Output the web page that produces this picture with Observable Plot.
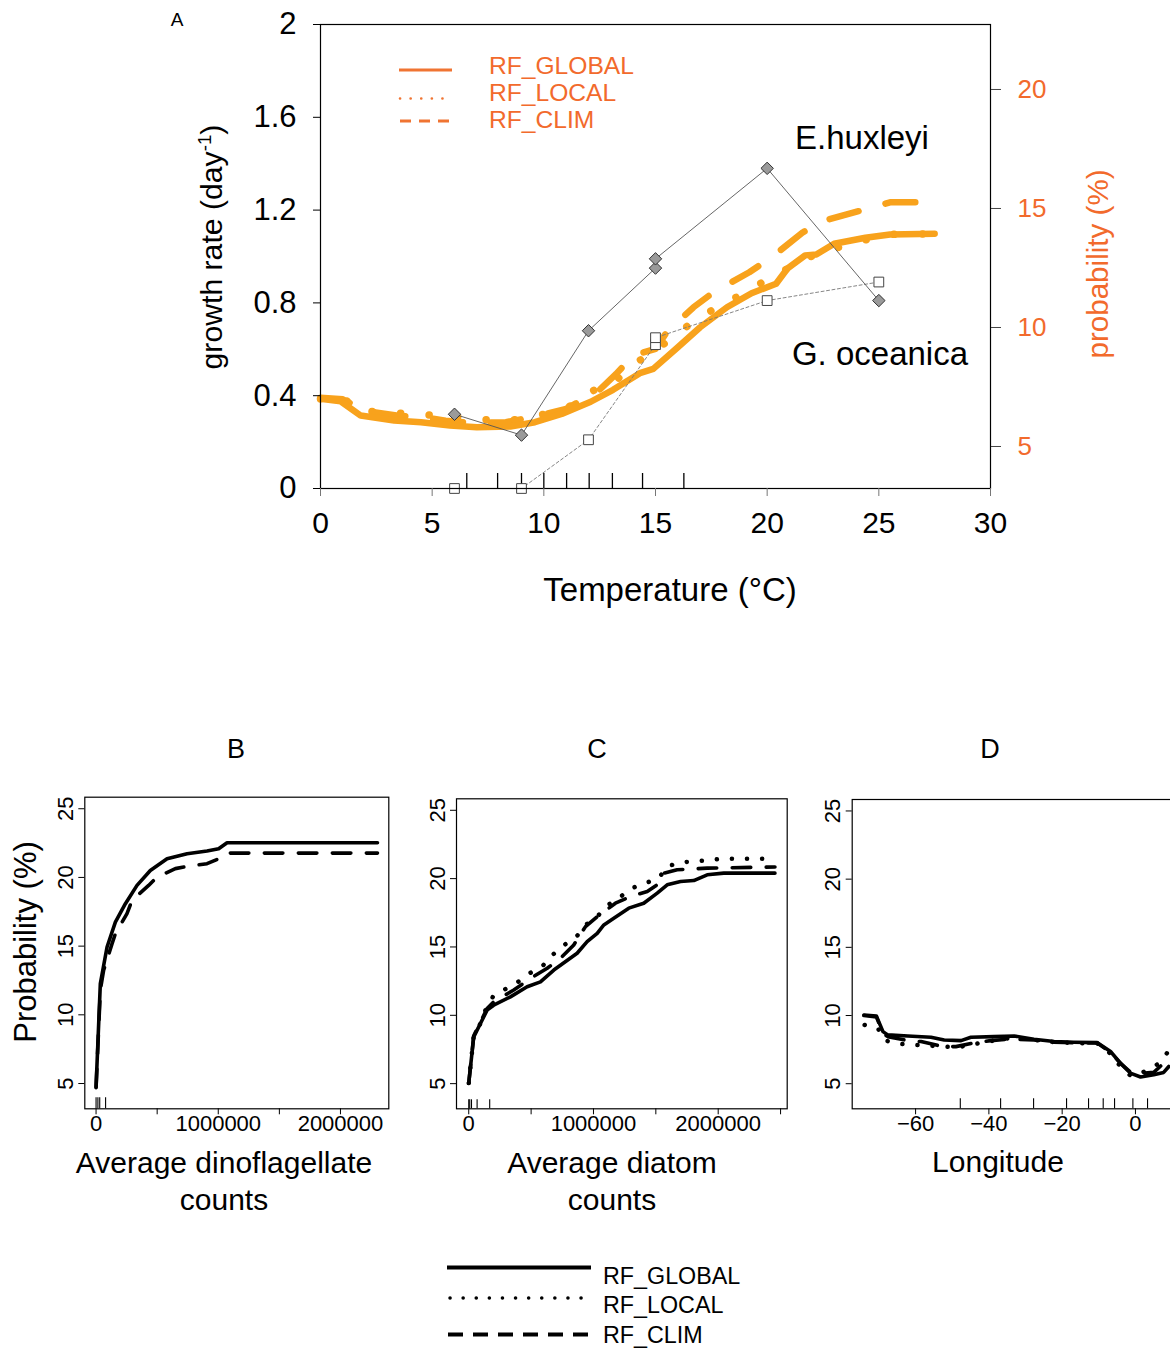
<!DOCTYPE html>
<html><head><meta charset="utf-8">
<script src="https://cdn.jsdelivr.net/npm/d3@7"></script>
<script src="https://cdn.jsdelivr.net/npm/@observablehq/plot@0.6"></script>
<style>
html,body{margin:0;padding:0;background:#fff;overflow:hidden;}
#wrap{position:relative;width:1170px;height:1348px;overflow:hidden;font-family:"Liberation Sans",Arial,Helvetica,sans-serif;background:#fff;}
.lbl{position:absolute;white-space:nowrap;color:#000;line-height:1;}
.lbl sup{font-size:0.62em;vertical-align:0.6em;line-height:0;}
</style></head><body><div id="wrap"></div>
<script>
// ---------------- Panel A data ----------------
const ehuxTemp   = [6, 9, 12, 15, 15, 20, 25];
const ehuxGrowth = [0.32, 0.23, 0.68, 0.95, 0.99, 1.38, 0.81];
const goceTemp   = [6, 9, 12, 15, 15, 20, 25];
const goceGrowth = [0, 0, 0.21, 0.62, 0.65, 0.81, 0.89];

const aGlobalTemp = [0, 0.9, 1.8, 3.3, 4.5, 5.8, 7.0, 8.5, 9.6, 10.8, 12.1, 13.1, 14.3, 14.9, 16.0, 17.0, 18.2, 19.3, 20.4, 20.9, 21.7, 22.2, 23.0, 24.4, 25.5, 27.5];
const aGlobalProb = [7.0, 6.9, 6.3, 6.09, 6.02, 5.88, 5.81, 5.84, 6.02, 6.37, 6.88, 7.38, 8.08, 8.26, 9.17, 10.01, 10.85, 11.44, 11.84, 12.47, 13.03, 13.07, 13.52, 13.77, 13.91, 13.94];

const aLocalTemp = [0, 1.04, 1.48, 2.08, 3.34, 4.67, 5.93, 7.2, 8.5, 9.76, 10.98, 12.34, 13.1, 13.9, 14.9, 15.85, 16.76, 17.8, 18.86, 19.9, 20.9, 21.96, 23.2, 24.4, 25.5, 27.5];
const aLocalProb = [7.0, 7.07, 6.58, 6.48, 6.41, 6.33, 6.26, 6.13, 6.09, 6.30, 6.58, 7.42, 7.63, 8.40, 8.96, 9.65, 10.29, 10.87, 11.39, 11.96, 12.47, 12.98, 13.37, 13.68, 13.91, 13.94];

const aClimTemp = [0, 1.0, 2.0, 3.4, 4.8, 5.6, 6.7, 8.3, 9.3, 10.0, 11.0, 12.46, 13.24, 14.0, 15.0, 15.5, 16.7, 17.6, 19.2, 20.2, 21.6, 22.6, 24.5, 25.5, 27.5];
const aClimProb = [7.05, 6.98, 6.5, 6.3, 6.2, 6.08, 6.0, 6.02, 6.2, 6.35, 6.58, 7.35, 8.05, 8.82, 9.10, 9.80, 10.85, 11.48, 12.32, 12.95, 14.0, 14.5, 14.99, 15.26, 15.26];

const aRugTemp = [6.55, 7.93, 9.0, 10.0, 11.02, 12.03, 13.07, 14.42, 16.27];
const aTempTicks = [0, 5, 10, 15, 20, 25, 30];
const aGrowthTicks = [0, 0.4, 0.8, 1.2, 1.6, 2];
const aProbTicks = [5, 10, 15, 20];

// ---------------- Panel B data (dinoflagellates) ----------------
const dinoGlobalX = [0, 35000, 90000, 158000, 240000, 335000, 444000, 581000, 745000, 908000, 1003000, 1072000, 2303000];
const dinoGlobalY = [4.75, 12.27, 14.94, 16.75, 18.09, 19.42, 20.51, 21.36, 21.73, 21.92, 22.09, 22.53, 22.53];
const dinoClimX = [0, 35000, 62000, 131000, 158000, 253000, 294000, 430000, 499000, 649000, 745000, 908000, 1003000, 1072000, 2303000];
const dinoClimY = [4.7, 11.8, 13.24, 15.18, 15.9, 17.36, 18.33, 19.42, 20.03, 20.64, 20.8, 21.0, 21.36, 21.77, 21.77];
const dinoRug = [0, 15000, 30000, 78000];
const dinoTicks = [0, 500000, 1000000, 1500000, 2000000];
const dinoLabels = [0, 1000000, 2000000];

// ---------------- Panel C data (diatoms) ----------------
const diaGlobalX = [0, 40000, 147000, 200000, 334000, 468000, 575000, 682000, 869000, 949000, 1030000, 1083000, 1163000, 1283000, 1403000, 1511000, 1591000, 1698000, 1804000, 1912000, 2045000, 2455000];
const diaGlobalY = [5.04, 8.42, 10.38, 10.74, 11.35, 12.09, 12.45, 13.31, 14.54, 15.39, 16.0, 16.61, 17.1, 17.84, 18.2, 18.94, 19.55, 19.79, 19.86, 20.28, 20.4, 20.4];
const diaLocalX = [0, 40000, 94000, 134000, 193000, 294000, 396000, 495000, 594000, 677000, 767000, 864000, 936000, 1030000, 1110000, 1209000, 1302000, 1409000, 1524000, 1591000, 1698000, 1818000, 2045000, 2455000];
const diaLocalY = [5.04, 8.5, 9.4, 10.38, 11.35, 11.92, 12.45, 13.11, 13.63, 14.46, 15.15, 15.76, 16.61, 17.22, 18.03, 18.62, 19.28, 19.64, 20.04, 20.89, 21.19, 21.26, 21.46, 21.46];
const diaClimX = [0, 40000, 147000, 200000, 361000, 495000, 629000, 735000, 842000, 936000, 1030000, 1176000, 1297000, 1431000, 1511000, 1564000, 1671000, 1912000, 2455000];
const diaClimY = [5.04, 8.5, 10.5, 10.99, 11.85, 12.7, 13.44, 14.17, 15.15, 16.49, 17.22, 18.2, 18.69, 19.06, 19.55, 20.4, 20.65, 20.77, 20.85];
const diaRug = [0, 8000, 22000, 67000, 168000];
const diaTicks = [0, 500000, 1000000, 1500000, 2000000, 2500000];
const diaLabels = [0, 1000000, 2000000];

// ---------------- Panel D data (longitude) ----------------
const lonGlobalX = [-74.1, -70.7, -68.9, -67.6, -62.1, -55.8, -52.2, -47.6, -44.9, -38.6, -33.1, -27.7, -22.2, -16.8, -10.4, -6.8, -4.1, -1.4, 1.4, 5.0, 7.7, 9.1];
const lonGlobalY = [10.04, 9.96, 8.82, 8.58, 8.50, 8.41, 8.21, 8.16, 8.41, 8.45, 8.5, 8.26, 8.09, 8.04, 8.01, 7.36, 6.51, 5.78, 5.49, 5.66, 5.83, 6.26];
const lonLocalX = [-73.9, -70.3, -68.2, -64.4, -60.6, -56.7, -52.6, -48.5, -44.9, -41.3, -37.6, -33.0, -27.7, -22.2, -16.8, -10.4, -6.8, -4.1, -1.4, 1.4, 3.6, 5.9, 8.6, 9.3];
const lonLocalY = [9.31, 9.06, 8.16, 7.92, 7.85, 7.8, 7.72, 7.67, 7.85, 8.04, 8.21, 8.4, 8.22, 8.05, 7.98, 7.95, 7.2, 6.26, 5.6, 5.7, 6.14, 6.4, 7.24, 7.4];
const lonClimX = [-74.1, -70.7, -68.9, -67.6, -62.1, -58.5, -52.6, -49.0, -43.1, -39.5, -34.0, -27.7, -22.2, -16.8, -10.4, -6.8, -4.1, -1.4, 1.4, 5.0, 7.7, 9.1];
const lonClimY = [10.0, 9.9, 8.7, 8.45, 8.16, 8.09, 7.72, 7.72, 8.04, 8.16, 8.28, 8.2, 8.05, 8.0, 7.98, 7.3, 6.5, 5.85, 5.75, 5.83, 6.5, 7.0];
const lonRug = [-47.8, -36.8, -27.8, -18.8, -12.8, -8.8, -5.7, -0.7, 3.3];
const lonTicks = [-60, -40, -20, 0];

const probTicksBottom = [5, 10, 15, 20, 25];
const seriesNames = ["RF_GLOBAL", "RF_LOCAL", "RF_CLIM"];

// ---------------- styles ----------------
const FONT = '"Liberation Sans", Arial, Helvetica, sans-serif';
const ORANGE = "#f8a21c";
const ORANGE_TEXT = "#f26a2c";
const ORANGE_LEG = "#f07432";

const wrap = document.getElementById("wrap");
const rows = (xs, ys) => xs.map((x, i) => ({x, y: ys[i]}));

function place(svg, left, top) {
  svg.style.position = "absolute";
  svg.style.left = left + "px";
  svg.style.top = top + "px";
  svg.style.maxWidth = "none";
  svg.style.background = "transparent";
  svg.style.overflow = "visible";
  wrap.appendChild(svg);
}
function label(html, x, y, size, opts = {}) {
  const d = document.createElement("div");
  d.className = "lbl";
  d.innerHTML = html;
  d.style.left = x + "px";
  d.style.top = y + "px";
  d.style.fontSize = size + "px";
  if (opts.color) d.style.color = opts.color;
  const ax = opts.anchor === "start" ? "0" : "-50%";
  d.style.transform = `translate(${ax}, -50%)` + (opts.rotate ? ` rotate(${opts.rotate}deg)` : "");
  wrap.appendChild(d);
}

// ---------------- Panel A ----------------
const probToGrowth = d3.scaleLinear().domain([3.235, 22.73]).range([0, 2]);
const A_FRAME_H = 464;
const plotA = Plot.plot({
  width: 1170, height: 620,
  marginLeft: 320, marginRight: 180, marginTop: 24, marginBottom: 132,
  x: {domain: [0, 30]},
  y: {domain: [0, 2]},
  style: {fontFamily: FONT, color: "#000"},
  marks: [
    Plot.line(rows(aClimTemp, aClimProb), {x: "x", y: d => probToGrowth(d.y), stroke: ORANGE, strokeWidth: 6.5, strokeDasharray: "30,28", strokeLinecap: "round", strokeLinejoin: "round"}),
    Plot.line(rows(aLocalTemp, aLocalProb), {x: "x", y: d => probToGrowth(d.y), stroke: ORANGE, strokeWidth: 7.5, strokeDasharray: "0.1,28.5", strokeLinecap: "round"}),
    Plot.line(rows(aGlobalTemp, aGlobalProb), {x: "x", y: d => probToGrowth(d.y), stroke: ORANGE, strokeWidth: 6.5, strokeLinejoin: "round", strokeLinecap: "round"}),
    Plot.line(rows(goceTemp, goceGrowth), {x: "x", y: "y", stroke: "#777", strokeWidth: 0.9, strokeDasharray: "3,2.5"}),
    Plot.line(rows(ehuxTemp, ehuxGrowth), {x: "x", y: "y", stroke: "#555", strokeWidth: 0.9}),
    Plot.tickX(aRugTemp, {x: d => d, insetTop: A_FRAME_H - 15, stroke: "#000", strokeWidth: 1.3}),
    Plot.dot(rows(goceTemp, goceGrowth), {x: "x", y: "y", symbol: "square", r: 5.5, fill: "white", stroke: "#444", strokeWidth: 1}),
    Plot.dot(rows(ehuxTemp, ehuxGrowth), {x: "x", y: "y", symbol: "diamond2", r: 5.6, fill: "#9a9a9a", stroke: "#333", strokeWidth: 1}),
    Plot.frame({stroke: "#000", strokeWidth: 1.2}),
    Plot.axisX({ticks: aTempTicks, tickFormat: d => String(d), tickSize: 8, tickPadding: 15, fontSize: 30, stroke: "#777", label: null}),
    Plot.axisY({ticks: aGrowthTicks, tickFormat: d => String(d), tickSize: 7, tickPadding: 17, fontSize: 31, label: null}),
    Plot.axisY({anchor: "right", ticks: aProbTicks.map(probToGrowth), tickFormat: g => String(Math.round(probToGrowth.invert(g))), tickSize: 10, tickPadding: 17, fontSize: 26, fill: ORANGE_TEXT, stroke: "#444", label: null})
  ]
});
place(plotA, 0, 0);

label("A", 177, 19, 19);
label("growth rate (day<sup>-1</sup>)", 212, 247, 30.2, {rotate: -90});
label("probability (%)", 1098, 264, 29.6, {rotate: -90, color: ORANGE_TEXT});
label("Temperature (°C)", 670, 589, 33);
label("E.huxleyi", 862, 137, 33);
label("G. oceanica", 880, 353, 33);

// legend A
{
  const svg = d3.create("svg").attr("width", 70).attr("height", 80)
    .style("position", "absolute").style("left", "392px").style("top", "55px");
  svg.append("line").attr("x1", 7).attr("x2", 60).attr("y1", 15).attr("y2", 15).attr("stroke", ORANGE_LEG).attr("stroke-width", 3);
  svg.append("line").attr("x1", 8).attr("x2", 60).attr("y1", 43.5).attr("y2", 43.5).attr("stroke", ORANGE_LEG).attr("stroke-width", 2.6).attr("stroke-dasharray", "0.1,10.5").attr("stroke-linecap", "round");
  svg.append("line").attr("x1", 8).attr("x2", 60).attr("y1", 66).attr("y2", 66).attr("stroke", ORANGE_LEG).attr("stroke-width", 3.2).attr("stroke-dasharray", "11,8");
  wrap.appendChild(svg.node());
  label(seriesNames[0], 489, 66, 24.6, {anchor: "start", color: ORANGE_TEXT});
  label(seriesNames[1], 489, 93, 24.6, {anchor: "start", color: ORANGE_TEXT});
  label(seriesNames[2], 489, 120, 24.6, {anchor: "start", color: ORANGE_TEXT});
}

// ---------------- bottom panels ----------------
const probDomainBottom = [3.16, 25.84];
const STYLE = {
  solid: {strokeWidth: 3.6},
  dotted: {strokeWidth: 4.5, strokeDasharray: "0.1,15"},
  dashed: {strokeWidth: 3.6, strokeDasharray: "18.5,15.5"}
};
function bottomPanel({left, width, frame, xDomain, xTicks, xFormat, series, rug, rugLen}) {
  const top = 760, height = 400;
  const [fl, ft, fr, fb] = frame;
  const marks = [
    ...series.map(s => Plot.line(s.data, {x: "x", y: "y", stroke: "#000", strokeLinecap: "round", strokeLinejoin: "round", ...STYLE[s.type]})),
    Plot.tickX(rug, {x: d => d, insetTop: (fb - ft) - rugLen, stroke: "#000", strokeWidth: 1.1}),
    Plot.frame({stroke: "#000", strokeWidth: 1.2}),
    Plot.axisY({ticks: probTicksBottom, tickFormat: d => String(d), tickRotate: -90, tickSize: 6, tickPadding: 6, fontSize: 22, label: null}),
    Plot.axisX({ticks: xTicks, tickFormat: xFormat, tickSize: 6, tickPadding: 1, fontSize: 22, label: null})
  ];
  const svg = Plot.plot({
    width, height,
    marginLeft: fl - left, marginRight: left + width - fr,
    marginTop: ft - top, marginBottom: top + height - fb,
    x: {domain: xDomain},
    y: {domain: probDomainBottom},
    style: {fontFamily: FONT, color: "#000"},
    marks
  });
  place(svg, left, top);
}

bottomPanel({
  left: 0, width: 420, frame: [84.3, 796.7, 388.3, 1108.3],
  xDomain: [-92137, 2395500], xTicks: dinoTicks,
  xFormat: d => dinoLabels.includes(d) ? String(d) : "",
  series: [
    {type: "dashed", data: rows(dinoClimX, dinoClimY)},
    {type: "solid", data: rows(dinoGlobalX, dinoGlobalY)}
  ],
  rug: dinoRug, rugLen: 11
});
bottomPanel({
  left: 420, width: 380, frame: [456, 798.3, 786.7, 1108.3],
  xDomain: [-98200, 2553200], xTicks: diaTicks,
  xFormat: d => diaLabels.includes(d) ? String(d) : "",
  series: [
    {type: "dotted", data: rows(diaLocalX, diaLocalY)},
    {type: "dashed", data: rows(diaClimX, diaClimY)},
    {type: "solid", data: rows(diaGlobalX, diaGlobalY)}
  ],
  rug: diaRug, rugLen: 9
});
bottomPanel({
  left: 800, width: 400, frame: [851.7, 799, 1182, 1108.3],
  xDomain: [-77.3, 12.84], xTicks: lonTicks,
  xFormat: d => d === 0 ? "0" : "\u2212" + Math.abs(d),
  series: [
    {type: "dotted", data: rows(lonLocalX, lonLocalY)},
    {type: "dashed", data: rows(lonClimX, lonClimY)},
    {type: "solid", data: rows(lonGlobalX, lonGlobalY)}
  ],
  rug: lonRug, rugLen: 10
});

label("B", 236, 749, 27);
label("C", 597, 749, 27);
label("D", 990, 749, 27);
label("Probability (%)", 25, 942, 31, {rotate: -90});
label("Average dinoflagellate", 224, 1163, 30);
label("counts", 224, 1200, 30);
label("Average diatom", 612, 1163, 30);
label("counts", 612, 1200, 30);
label("Longitude", 998, 1162, 30);

// bottom legend
{
  const svg = d3.create("svg").attr("width", 160).attr("height", 90)
    .style("position", "absolute").style("left", "440px").style("top", "1255px");
  svg.append("line").attr("x1", 7).attr("x2", 151).attr("y1", 12.5).attr("y2", 12.5).attr("stroke", "#000").attr("stroke-width", 4);
  svg.append("line").attr("x1", 10).attr("x2", 151).attr("y1", 43).attr("y2", 43).attr("stroke", "#000").attr("stroke-width", 3.5).attr("stroke-dasharray", "0.1,13").attr("stroke-linecap", "round");
  svg.append("line").attr("x1", 8).attr("x2", 151).attr("y1", 79.5).attr("y2", 79.5).attr("stroke", "#000").attr("stroke-width", 4).attr("stroke-dasharray", "15,10");
  wrap.appendChild(svg.node());
  label(seriesNames[0], 603, 1277, 23.3, {anchor: "start"});
  label(seriesNames[1], 603, 1306, 23.3, {anchor: "start"});
  label(seriesNames[2], 603, 1336, 23.3, {anchor: "start"});
}
</script></body></html>
